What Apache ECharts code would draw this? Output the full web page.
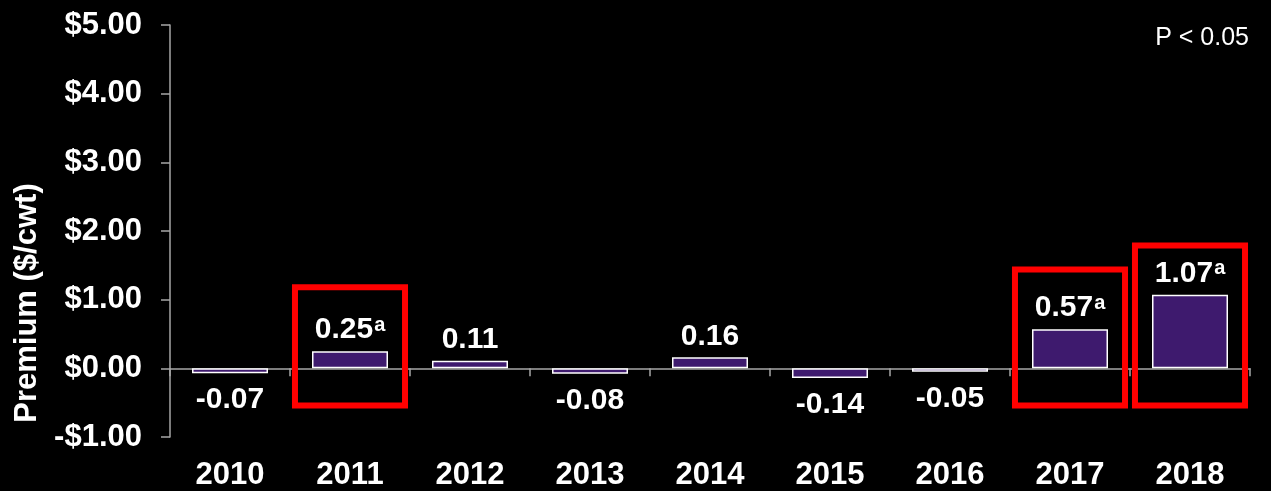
<!DOCTYPE html>
<html>
<head>
<meta charset="utf-8">
<script src="https://cdn.jsdelivr.net/npm/echarts@6/dist/echarts.min.js"></script>
<style>
html,body{margin:0;padding:0;background:#000;}
#chart{width:1271px;height:491px;}
</style>
</head>
<body>
<div id="chart"></div>
<script>
const years = ['2010','2011','2012','2013','2014','2015','2016','2017','2018'];
const premiums = [-0.07, 0.25, 0.11, -0.08, 0.16, -0.14, -0.05, 0.57, 1.07];
const significant = [false, true, false, false, false, false, false, true, true];
const highlightIdx = [1, 7, 8];
const highlightTop = [1.18, 1.44, 1.79];
const highlightBottom = [-0.54, -0.54, -0.54];
const yMin = -1, yMax = 5, yStep = 1;
const yName = 'Premium ($/cwt)';
const noteText = 'P < 0.05';

const FONT = '"Liberation Sans", Arial, sans-serif';

const barData = premiums.map((v, i) => ({
  value: v,
  label: v < 0 ? { position: 'bottom', distance: 12 } : { position: 'top', distance: 6 }
}));

const boxData = highlightIdx.map((idx, k) => [idx, highlightTop[k], highlightBottom[k]]);

const chart = echarts.init(document.getElementById('chart'));
chart.setOption({
  backgroundColor: '#000',
  animation: false,
  title: {
    text: noteText,
    right: 17,
    top: 21,
    textStyle: { color: '#fff', fontSize: 25, fontWeight: 'normal', fontFamily: FONT }
  },
  grid: { left: 170, right: 21, top: 25, bottom: 54, containLabel: false, outerBoundsMode: 'none' },
  xAxis: {
    type: 'category',
    data: years,
    axisLine: { onZero: true, lineStyle: { color: '#a6a6a6', width: 1.5 } },
    axisTick: { show: true, length: 8, interval: 0, lineStyle: { color: '#a6a6a6', width: 1.5 } },
    axisLabel: { color: '#fff', fontSize: 31, fontWeight: 'bold', fontFamily: FONT, margin: 23, interval: 0 }
  },
  yAxis: {
    type: 'value',
    min: yMin, max: yMax, interval: yStep,
    splitLine: { show: false },
    axisLine: { show: true, lineStyle: { color: '#a6a6a6', width: 1.5 } },
    axisTick: { show: true, length: 9, lineStyle: { color: '#a6a6a6', width: 1.5 } },
    axisLabel: {
      color: '#fff', fontSize: 31, fontWeight: 'bold', fontFamily: FONT, margin: 28,
      formatter: v => (v < 0 ? '-' : '') + '$' + Math.abs(v).toFixed(2)
    }
  },
  graphic: [{
    type: 'text',
    x: 27, y: 303,
    rotation: Math.PI / 2,
    style: {
      text: yName, fill: '#fff', font: 'bold 31px ' + FONT,
      align: 'center', verticalAlign: 'middle'
    }
  }],
  series: [{
    type: 'bar',
    data: barData,
    barWidth: 76,
    itemStyle: { color: '#3e1a6e', borderColor: '#ffffff', borderWidth: 1.5 },
    label: {
      show: true,
      color: '#fff', fontSize: 30, fontWeight: 'bold', fontFamily: FONT,
      formatter: p => p.value.toFixed(2) + (significant[p.dataIndex] ? '{s|a}' : ''),
      rich: {
        s: { fontSize: 20, fontWeight: 'bold', fontFamily: FONT, color: '#fff', verticalAlign: 'top', lineHeight: 20, padding: [0, 0, 12, 1] }
      }
    },
    z: 2
  }, {
    type: 'custom',
    data: boxData,
    z: 5,
    silent: true,
    renderItem: (params, api) => {
      const p1 = api.coord([api.value(0), api.value(1)]);
      const p2 = api.coord([api.value(0), api.value(2)]);
      const w = api.size([1, 0])[0] * 0.917;
      return {
        type: 'rect',
        shape: { x: p1[0] - w / 2, y: p1[1], width: w, height: p2[1] - p1[1] },
        style: { fill: 'none', stroke: '#ff0000', lineWidth: 6 }
      };
    }
  }]
});
</script>
</body>
</html>
